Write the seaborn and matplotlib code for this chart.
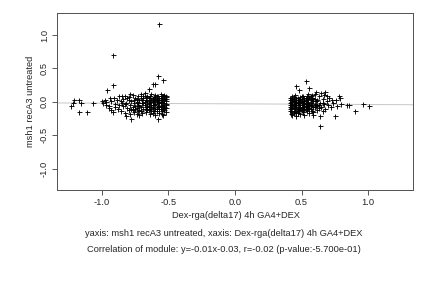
import matplotlib
matplotlib.use("Agg")
import matplotlib.pyplot as plt
import seaborn as sns
import numpy as np
import pandas as pd

left_x = [-1.23, -1.22, -1.21, -1.17, -1.16, -1.17, -1.11, -1.07,
          -1.00, -0.99, -0.98, -0.97, -0.96, -0.95, -0.94, -0.93, -0.92, -0.92,
          -0.92, -0.91, -0.90, -0.90, -0.89, -0.88, -0.87, -0.87, -0.86, -0.86,
          -0.85, -0.85, -0.95, -0.97, -0.93,
          -0.84, -0.84, -0.83, -0.83, -0.82, -0.82, -0.81, -0.81, -0.80, -0.80,
          -0.79, -0.79, -0.78, -0.78, -0.77, -0.77, -0.76, -0.76, -0.75, -0.75,
          -0.74, -0.74, -0.73, -0.73, -0.72, -0.72, -0.71, -0.71, -0.70, -0.70,
          -0.83, -0.80, -0.77, -0.74, -0.72, -0.71, -0.79, -0.76, -0.75, -0.73,
          -0.69, -0.69, -0.68, -0.68, -0.67, -0.67, -0.66, -0.66, -0.65, -0.65,
          -0.65, -0.64, -0.64, -0.63, -0.63, -0.62, -0.62, -0.62, -0.61, -0.61,
          -0.60, -0.60, -0.60, -0.59, -0.59, -0.58, -0.58, -0.58, -0.58, -0.57,
          -0.57, -0.57, -0.56, -0.56, -0.56, -0.55, -0.55, -0.55, -0.54, -0.54,
          -0.54, -0.54, -0.53, -0.53, -0.53, -0.53, -0.52, -0.52, -0.52, -0.52,
          -0.69, -0.67, -0.66, -0.64, -0.63, -0.61, -0.60, -0.59, -0.57, -0.56,
          -0.55, -0.54, -0.53, -0.52, -0.52, -0.62, -0.59, -0.57, -0.55, -0.53,
          -0.52, -0.53, -0.54, -0.55, -0.56, -0.57, -0.58, -0.59, -0.60, -0.61,
          -0.62, -0.63, -0.64, -0.65, -0.66, -0.67, -0.68, -0.70, -0.72, -0.74,
          -0.52, -0.53, -0.54, -0.55, -0.56, -0.57, -0.58, -0.59, -0.60, -0.61,
          -0.62, -0.63, -0.64, -0.65, -0.66, -0.67, -0.69, -0.71, -0.73, -0.78]
left_y = [-0.06, -0.02, 0.03, 0.03, -0.01, -0.15, -0.15, -0.01,
          0.01, -0.02, 0.02, -0.04, 0.18, -0.06, 0.05, -0.12, 0.70, 0.25,
          -0.15, 0.06, -0.03, -0.08, 0.02, -0.10, 0.08, -0.05, 0.01, -0.14,
          0.09, -0.02, -0.09, 0.00, 0.01,
          -0.06, 0.04, -0.16, 0.08, -0.21, -0.01, 0.06, -0.09, 0.03, -0.12,
          -0.04, 0.12, -0.25, 0.01, -0.07, 0.10, -0.02, -0.15, 0.05, -0.10,
          0.00, -0.18, 0.08, -0.05, -0.12, 0.03, -0.08, 0.06, -0.02, -0.16,
          -0.03, 0.07, -0.12, 0.04, -0.20, 0.11, -0.18, 0.02, -0.06, -0.14,
          0.05, -0.10, 0.13, -0.04, -0.15, 0.02, -0.07, 0.09, 0.19, -0.12,
          -0.01, 0.06, -0.18, -0.05, 0.11, 0.27, -0.09, 0.01, -0.14, 0.07,
          0.27, -0.03, -0.20, 0.04, -0.11, 0.39, -0.25, -0.06, 0.09, 1.17,
          0.00, -0.16, 0.12, -0.08, 0.05, -0.13, 0.02, -0.04, 0.33, 0.08,
          -0.10, -0.19, -0.02, 0.10, -0.07, 0.04, -0.15, 0.01, -0.05, 0.07,
          -0.01, 0.07, -0.11, 0.00, -0.13, 0.03, 0.10, -0.07, 0.06, -0.02,
          0.09, -0.01, -0.12, -0.09, 0.04, -0.17, 0.01, -0.10, -0.18, 0.06,
          -0.03, 0.02, -0.06, 0.05, -0.11, 0.03, -0.02, -0.14, 0.06, -0.04,
          0.04, -0.08, 0.09, -0.06, 0.01, -0.12, 0.00, 0.02, -0.06, -0.09,
          0.09, -0.09, 0.03, -0.08, 0.00, -0.06, 0.02, 0.08, -0.11, 0.00,
          -0.05, 0.03, -0.10, 0.05, -0.03, -0.07, 0.08, -0.13, -0.02, -0.10]

right_x = [0.41, 0.41, 0.41, 0.41, 0.42, 0.42, 0.42, 0.42, 0.43, 0.43,
           0.43, 0.43, 0.44, 0.44, 0.44, 0.44, 0.45, 0.45, 0.45, 0.45,
           0.46, 0.46, 0.46, 0.46, 0.47, 0.47, 0.47, 0.47, 0.48, 0.48,
           0.48, 0.48, 0.49, 0.49, 0.49, 0.49, 0.50, 0.50, 0.50, 0.50,
           0.42, 0.43, 0.44, 0.45, 0.46, 0.47, 0.48, 0.49, 0.41, 0.42,
           0.51, 0.51, 0.51, 0.52, 0.52, 0.52, 0.53, 0.53, 0.53, 0.53,
           0.54, 0.54, 0.54, 0.55, 0.55, 0.55, 0.56, 0.56, 0.56, 0.57,
           0.57, 0.57, 0.58, 0.58, 0.58, 0.59, 0.59, 0.59, 0.60, 0.60,
           0.60, 0.51, 0.52, 0.54, 0.55, 0.56, 0.57, 0.58, 0.59, 0.60,
           0.61, 0.61, 0.62, 0.62, 0.63, 0.63, 0.64, 0.64, 0.64, 0.65,
           0.65, 0.66, 0.66, 0.67, 0.67, 0.68, 0.68, 0.69, 0.70, 0.71,
           0.72, 0.73,
           0.74, 0.75, 0.76, 0.77, 0.78, 0.79, 0.80, 0.84, 0.86, 0.90,
           0.96, 1.01,
           0.41, 0.42, 0.43, 0.44, 0.45, 0.46, 0.47, 0.48, 0.49, 0.50,
           0.51, 0.52, 0.53, 0.54, 0.55, 0.56, 0.57, 0.58, 0.62, 0.66,
           0.41, 0.42, 0.43, 0.44, 0.45, 0.46, 0.47, 0.48, 0.49, 0.50,
           0.51, 0.52, 0.53, 0.54, 0.55, 0.57, 0.59, 0.61, 0.63, 0.69]
right_y = [-0.02, -0.08, 0.02, -0.14, -0.18, 0.05, -0.05, -0.11, 0.01, -0.20,
           -0.07, 0.08, -0.03, -0.13, 0.04, -0.17, -0.09, 0.00, 0.10, -0.05,
           0.24, -0.15, -0.01, -0.21, 0.06, -0.10, -0.04, 0.02, 0.18, -0.07,
           -0.13, 0.03, -0.02, -0.18, 0.07, -0.09, 0.00, -0.05, -0.12, 0.04,
           0.00, -0.04, 0.07, -0.11, 0.03, -0.17, -0.01, 0.01, 0.06, -0.14,
           -0.08, 0.09, -0.15, -0.03, 0.05, -0.19, 0.31, -0.06, -0.11, 0.02,
           0.08, -0.02, -0.14, 0.00, -0.09, 0.11, 0.20, -0.05, -0.17, 0.03,
           -0.10, 0.09, -0.04, -0.13, 0.06, 0.01, -0.08, -0.20, 0.12, -0.03,
           0.04, 0.01, -0.10, 0.04, -0.05, 0.07, -0.01, 0.10, -0.15, -0.07,
           0.15, -0.06, -0.12, 0.02, 0.08, -0.09, -0.36, -0.21, -0.02, 0.13,
           -0.07, 0.04, -0.14, 0.10, -0.03, 0.14, -0.10, 0.01, -0.05, 0.06,
           -0.08, 0.02,
           -0.02, -0.21, 0.03, -0.06, 0.08, 0.06, -0.03, -0.05, -0.04, -0.13,
           -0.03, -0.06,
           -0.05, -0.09, 0.04, -0.06, -0.14, 0.06, -0.12, 0.00, -0.05, 0.08,
           -0.03, 0.01, -0.01, -0.07, 0.04, -0.10, -0.06, 0.01, -0.04, -0.01,
           -0.11, 0.02, -0.15, 0.01, -0.02, -0.08, 0.00, -0.10, 0.04, -0.09,
           -0.12, -0.06, 0.05, -0.10, -0.03, 0.05, 0.04, 0.01, -0.05, 0.09]

fit_slope = -0.01
fit_intercept = -0.03
ticks = [-1.0, -0.5, 0.0, 0.5, 1.0]
tick_labels = ["-1.0", "-0.5", "0.0", "0.5", "1.0"]

xlabel = "Dex-rga(delta17) 4h GA4+DEX"
ylabel = "msh1 recA3 untreated"
line3 = "yaxis: msh1 recA3 untreated, xaxis: Dex-rga(delta17) 4h GA4+DEX"
line4 = "Correlation of module: y=-0.01x-0.03, r=-0.02 (p-value:-5.700e-01)"

sns.set_style("white")
plt.rcParams['font.family'] = ['Liberation Sans', 'DejaVu Sans']

df = pd.DataFrame({"x": left_x + right_x, "y": left_y + right_y})

fig = plt.figure(figsize=(6, 4), dpi=72)
ax = fig.add_axes([57/432, 1-190/288, 356/432, 177/288])

xlim = (-1.338, 1.338)
ylim = (-1.32, 1.33)
lx = np.array(xlim)
ax.plot(lx, fit_slope*lx + fit_intercept, color="#c8c8c8", lw=1.0, zorder=1)
sns.scatterplot(data=df, x="x", y="y", marker="+", color="black", s=25,
                linewidth=0.9, ax=ax, zorder=2)
fs = 9.3
ax.set_xlim(*xlim)
ax.set_ylim(*ylim)
ax.set_xticks(ticks)
ax.set_xticklabels(tick_labels, fontsize=fs)
ax.set_yticks(ticks)
ax.set_yticklabels(tick_labels, fontsize=fs, rotation=90, va="center")
ax.tick_params(axis="both", direction="out", length=5, width=0.8, color="#333333",
               pad=3, bottom=True, left=True)
for s in ax.spines.values():
    s.set_color("#555555")
    s.set_linewidth(1.0)
ax.set_xlabel("")
ax.set_ylabel(ylabel, fontsize=fs, labelpad=5)

fig.text(236/432, 1-216/288, xlabel, ha="center", va="center", fontsize=fs)
fig.text(224/432, 1-233/288, line3, ha="center", va="center", fontsize=fs)
fig.text(224/432, 1-249/288, line4, ha="center", va="center", fontsize=fs)

fig.savefig("out.png", dpi=72)
